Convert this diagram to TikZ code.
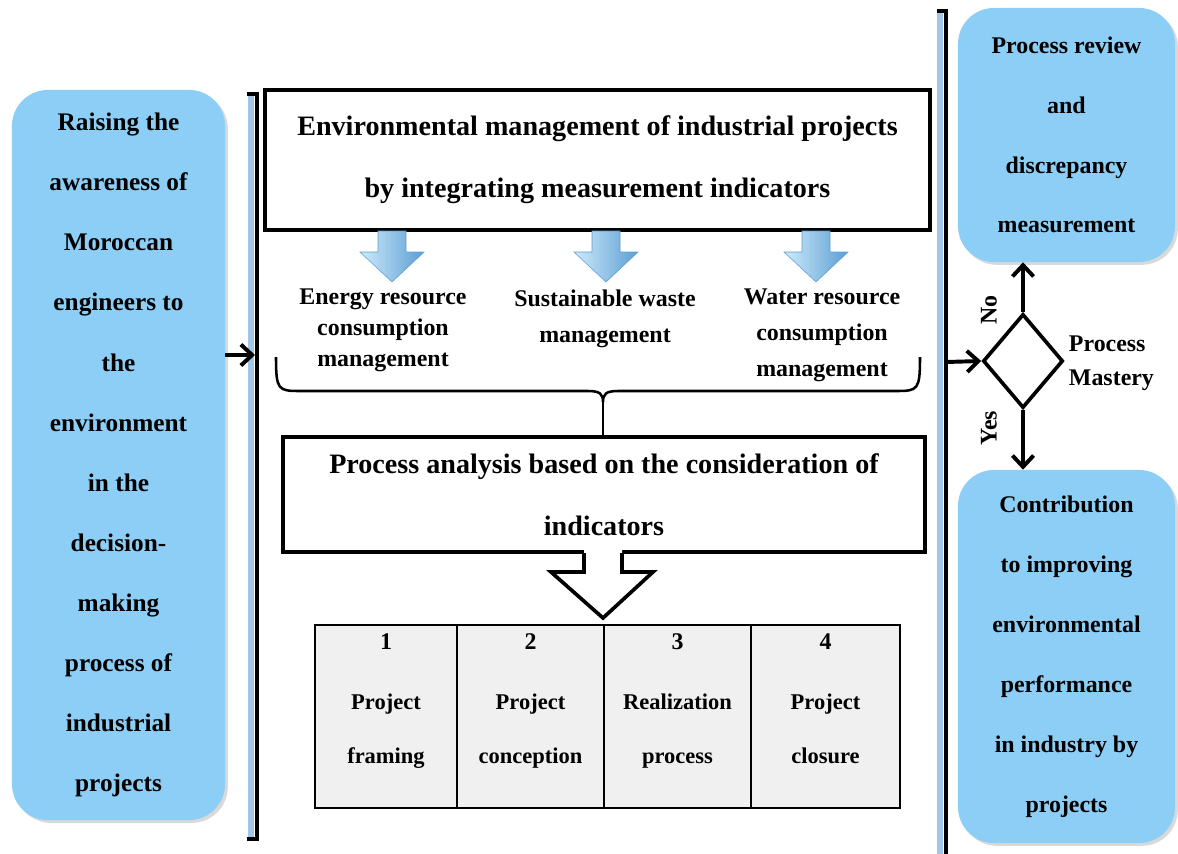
\documentclass[tikz,border=0pt]{standalone}
\usepackage{fontspec}
\setmainfont{Liberation Serif}
\usetikzlibrary{shapes,arrows.meta,shadows,calc}
\definecolor{skyblue}{RGB}{141,206,246}
\definecolor{barblue}{RGB}{160,198,232}
\definecolor{cellgray}{RGB}{240,240,240}
\definecolor{arrowlight}{RGB}{205,234,252}
\definecolor{arrowdark}{RGB}{92,158,210}
\newcommand{\boldsz}[2]{\fontsize{#1}{#2}\selectfont\bfseries}

\begin{document}
\begin{tikzpicture}[x=0.025cm,y=-0.025cm,>={Straight Barb[length=8pt,width=15pt]}]
   \useasboundingbox (0,0) rectangle (1178,854);
   \tikzstyle{bluebox}=[rounded corners=0.9cm, fill=skyblue, align=center, drop shadow={opacity=0.3,shadow xshift=0.7mm,shadow yshift=-0.7mm}]
   \tikzstyle{frame}=[draw=black, line width=3pt, fill=white, align=center, font=\boldsz{20}{44}]
   \tikzstyle{cell}=[draw=black, line width=1.1pt, fill=cellgray, minimum height=4.575cm]
   \tikzstyle{conn}=[->, line width=2.8pt]
   \node[bluebox, minimum width=5.325cm, minimum height=18.25cm, font=\boldsz{18}{42.7}] (aware) at (118.5,455)
      {Raising the\\awareness of\\Moroccan\\engineers to\\the\\environment\\in the\\decision-\\making\\process of\\industrial\\projects};
   \node[bluebox, minimum width=5.425cm, minimum height=6.35cm, font=\boldsz{17}{42.5}] (review) at (1066.5,135)
      {Process review\\and\\discrepancy\\measurement};
   \node[bluebox, minimum width=5.425cm, minimum height=9.325cm, font=\boldsz{17}{42.7}] (contrib) at (1066.5,656.5)
      {Contribution\\to improving\\environmental\\performance\\in industry by\\projects};
   \draw[barblue, line width=0.15cm] (251,96) -- (251,838);
   \draw[line width=2.4pt, line cap=rect] (249,94) -- (257,94) -- (257,839) -- (249,839);
   \draw[barblue, line width=0.13cm] (940,12) -- (940,854);
   \draw[line width=2.4pt, line cap=rect] (939,11) -- (946,11) -- (946,854);
   \coordinate (lin) at (255,355);
   \path[conn] (aware.east |- lin) edge (lin);
   \node[frame, minimum width=16.625cm, minimum height=3.5cm] (envbox) at (597.5,160)
      {Environmental management of industrial projects\\by integrating measurement indicators};
   \foreach \x in {392,606,816} {
       \shade[left color=arrowlight, right color=arrowdark, draw=arrowdark, line width=0.4pt]
          (\x-14,231) -- (\x+14,231) -- (\x+14,252) -- (\x+32,252) -- (\x,282) -- (\x-32,252) -- (\x-14,252) -- cycle;
   }
   \node[font=\boldsz{17}{22}, align=center] (energy) at (383,330) {Energy resource\\consumption\\management};
   \node[font=\boldsz{17}{25.6}, align=center] (waste) at (605,319) {Sustainable waste\\management};
   \node[font=\boldsz{17}{25.6}, align=center] (water) at (822,335) {Water resource\\consumption\\management};
   \draw[line width=1.8pt] (276,357) .. controls (276,390) and (278,391) .. (300,391) -- (588,391)
      .. controls (600,391) and (603,394) .. (603,402) .. controls (603,394) and (606,391) .. (618,391)
      -- (896,391) .. controls (918,391) and (920,390) .. (920,357);
   \coordinate (cusp) at (603,402);
   \node[frame, minimum width=16.05cm, minimum height=2.875cm] (proc) at (604,494.5)
      {Process analysis based on the consideration of\\indicators};
   \path[line width=1.8pt] (cusp) edge (cusp |- proc.north);
   \fill[white] (584,546) -- (584,572) -- (551,572) -- (603,618) -- (653,572) -- (622,572) -- (622,546) -- cycle;
   \draw[line width=2.6pt] (584,553) -- (584,572) -- (551,572) -- (603,618) -- (653,572) -- (622,572) -- (622,553);
   \foreach \i/\x/\w/\num/\first/\second in {1/386/142/1/Project/framing,2/530.5/147/2/Project/conception,3/677.5/147/3/Realization/process,4/825.5/149/4/Project/closure} {
       \node[cell, minimum width=\w*0.025cm] (cell\i) at (\x,716.5) {};
       \node[font=\boldsz{17}{20}, anchor=base] (num\i) at (\x,649) {\num};
       \node[font=\boldsz{16}{20}, anchor=base] (top\i) at (\x,709) {\first};
       \node[font=\boldsz{16}{20}, anchor=base] (bot\i) at (\x,763) {\second};
   }
   \node[draw, diamond, line width=2.6pt, minimum width=2cm, minimum height=2.35cm, inner sep=0pt] (mastery) at (1023,361) {};
   \node[font=\boldsz{17}{24}, align=left, anchor=west] (mastertext) at (1064,363) {Process\\Mastery};
   \node[font=\boldsz{17}{20}, rotate=90] (no) at (989,310) {No};
   \node[font=\boldsz{17}{20}, rotate=90] (yes) at (989,428) {Yes};
   \coordinate (rin) at (946,362);
   \path[conn] (rin) edge (mastery.west);
   \path[conn] (mastery.north) edge (mastery.north |- review.south);
   \path[conn] (mastery.south) edge (mastery.south |- contrib.north);
\end{tikzpicture}
\end{document}
